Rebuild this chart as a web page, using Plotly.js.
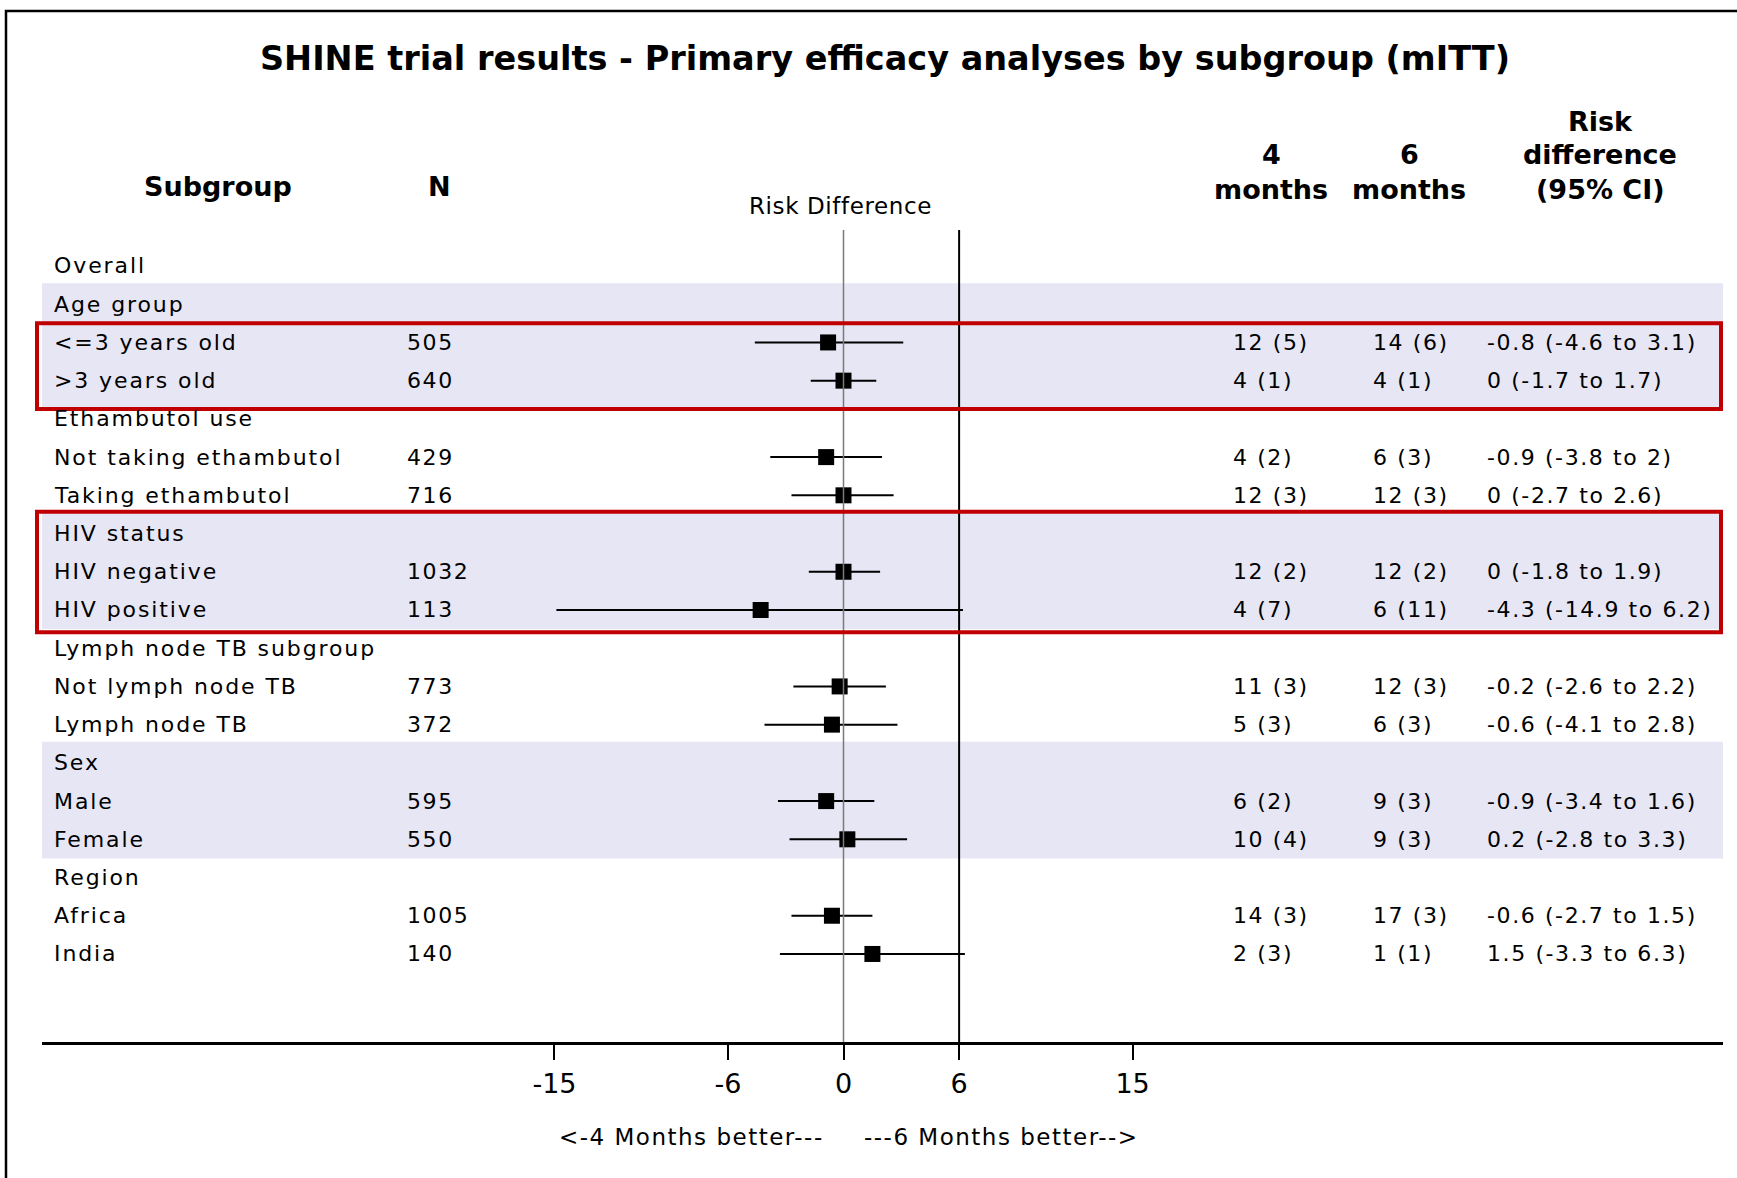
<!DOCTYPE html>
<html>
<head>
<meta charset="utf-8">
<script src="https://cdn.plot.ly/plotly-3.0.1.min.js"></script>
<style>html,body{margin:0;padding:0;background:#fff;}</style>
</head>
<body>
<div id="chart" style="width:1737px;height:1178px;"></div>
<script>
// ---------------- DATA ----------------
const subgroupLabels = [
  "Overall", "Age group", "<=3 years old", ">3 years old",
  "Ethambutol use", "Not taking ethambutol", "Taking ethambutol",
  "HIV status", "HIV negative", "HIV positive",
  "Lymph node TB subgroup", "Not lymph node TB", "Lymph node TB",
  "Sex", "Male", "Female",
  "Region", "Africa", "India"
];
const nValues   = [null, null, 505, 640, null, 429, 716, null, 1032, 113, null, 773, 372, null, 595, 550, null, 1005, 140];
const events4   = [null, null, 12, 4, null, 4, 12, null, 12, 4, null, 11, 5, null, 6, 10, null, 14, 2];
const pct4      = [null, null, 5, 1, null, 2, 3, null, 2, 7, null, 3, 3, null, 2, 4, null, 3, 3];
const events6   = [null, null, 14, 4, null, 6, 12, null, 12, 6, null, 12, 6, null, 9, 9, null, 17, 1];
const pct6      = [null, null, 6, 1, null, 3, 3, null, 2, 11, null, 3, 3, null, 3, 3, null, 3, 1];
const riskDiff  = [null, null, -0.8, 0, null, -0.9, 0, null, 0, -4.3, null, -0.2, -0.6, null, -0.9, 0.2, null, -0.6, 1.5];
const ciLower   = [null, null, -4.6, -1.7, null, -3.8, -2.7, null, -1.8, -14.9, null, -2.6, -4.1, null, -3.4, -2.8, null, -2.7, -3.3];
const ciUpper   = [null, null, 3.1, 1.7, null, 2, 2.6, null, 1.9, 6.2, null, 2.2, 2.8, null, 1.6, 3.3, null, 1.5, 6.3];
const tickValues = [-15, -6, 0, 6, 15];
const refLines = [0, 6];
const shadedGroups = [[1, 3], [7, 9], [13, 15]];   // first and last row of shaded blocks
const highlightedGroups = [[2, 3], [7, 9]];        // rows framed in red

const titleText = "SHINE trial results - Primary efficacy analyses by subgroup (mITT)";
const colHeaders = {subgroup: "Subgroup", n: "N", m4: ["4", "months"], m6: ["6", "months"], rd: ["Risk", "difference", "(95% CI)"]};
const axisLabel = "Risk Difference";
const leftNote = "<-4 Months better---";
const rightNote = "---6 Months better-->";

// ---------------- LAYOUT HELPERS ----------------
const W = 1737, H = 1178;
const px = x => x / W;
const py = y => 1 - y / H;
const esc = s => String(s).replace(/&/g, "&amp;").replace(/</g, "&lt;").replace(/>/g, "&gt;");
const sp = (s, ls) => `<span style="letter-spacing:${ls}px">${esc(s)}</span>`;

const rows = subgroupLabels.map((_, i) => i);
const FONT = "DejaVu Sans";
const txtFont = {family: FONT, size: 22, color: "#000"};
const LS = 1.6;

const annotations = [];
function colText(xPix, i, text, ls) {
  annotations.push({xref: "paper", yref: "y", x: px(xPix), y: i, text: sp(text, ls === undefined ? LS : ls),
    showarrow: false, xanchor: "left", yanchor: "middle", font: txtFont});
}
rows.forEach(i => {
  colText(52, i, subgroupLabels[i], 1.9);
  if (nValues[i] !== null) colText(405, i, nValues[i]);
  if (events4[i] !== null) colText(1231, i, `${events4[i]} (${pct4[i]})`);
  if (events6[i] !== null) colText(1371, i, `${events6[i]} (${pct6[i]})`);
  if (riskDiff[i] !== null) colText(1485, i, `${riskDiff[i]} (${ciLower[i]} to ${ciUpper[i]})`);
});

const hdrFont = {family: FONT, size: 27, color: "#000", weight: "bold"};
function header(xPix, yPix, text) {
  annotations.push({xref: "paper", yref: "paper", x: px(xPix), y: py(yPix), text: esc(text),
    showarrow: false, xanchor: "center", yanchor: "middle", font: hdrFont});
}
header(218, 186, colHeaders.subgroup);
header(439, 186, colHeaders.n);
colHeaders.m4.forEach((t, k) => header(1271, 155 + 34 * k, t));
colHeaders.m6.forEach((t, k) => header(1409, 155 + 34 * k, t));
colHeaders.rd.forEach((t, k) => header(1600, 121 + 34 * k, t));

annotations.push({xref: "paper", yref: "paper", x: px(840), y: py(206), text: sp(axisLabel, 0.6),
  showarrow: false, xanchor: "center", yanchor: "middle", font: {family: FONT, size: 23, color: "#000"}});
annotations.push({xref: "x", yref: "paper", x: 0, xshift: -18, y: py(1137), text: sp(leftNote, 1.5),
  showarrow: false, xanchor: "right", yanchor: "middle", font: {family: FONT, size: 23, color: "#000"}});
annotations.push({xref: "x", yref: "paper", x: 0, xshift: 18, y: py(1137), text: sp(rightNote, 1.5),
  showarrow: false, xanchor: "left", yanchor: "middle", font: {family: FONT, size: 23, color: "#000"}});

// ---------------- SHAPES ----------------
const shapes = [];
// shaded blocks: top / bottom offsets (in rows)
const bandOffsets = [[-0.55, 0.72], [-0.55, 0.5], [-0.55, 0.5]];
shadedGroups.forEach(([a, b], k) => shapes.push({type: "rect", xref: "x domain", yref: "y",
  x0: 0, x1: 1, y0: a + bandOffsets[k][0], y1: b + bandOffsets[k][1], fillcolor: "#E6E6F5", line: {width: 0}, layer: "below"}));
refLines.forEach(v => shapes.push({type: "line", xref: "x", yref: "y domain", x0: v, x1: v, y0: 0, y1: 1,
  line: {color: v === 0 ? "#7a7a7a" : "#000", width: v === 0 ? 1.5 : 2}, layer: v === 0 ? "above" : "below"}));
// red frames: top / bottom offsets (in rows)
const frameOffsets = [[-0.5, 0.74], [-0.57, 0.58]];
highlightedGroups.forEach(([a, b], k) => shapes.push({type: "rect", xref: "paper", yref: "y",
  x0: px(37), x1: px(1721), y0: a + frameOffsets[k][0], y1: b + frameOffsets[k][1],
  line: {color: "#C00000", width: 4}, layer: "above"}));
// outer frame of the figure
shapes.push({type: "rect", xref: "paper", yref: "paper", x0: px(6), x1: px(1750), y0: py(11), y1: py(1200),
  line: {color: "#000", width: 2.5}, layer: "above"});

// ---------------- TRACE ----------------
const errPlus = riskDiff.map((v, i) => v === null ? null : +(ciUpper[i] - v).toFixed(3));
const errMinus = riskDiff.map((v, i) => v === null ? null : +(v - ciLower[i]).toFixed(3));
const trace = {
  type: "scatter", mode: "markers", x: riskDiff, y: rows,
  marker: {symbol: "square", size: 16, color: "#000", line: {width: 0}},
  error_x: {type: "data", symmetric: false, array: errPlus, arrayminus: errMinus,
    color: "#000", thickness: 2, width: 0},
  hoverinfo: "skip", cliponaxis: false
};

// x: 0 at 843.5px, 19.27 px per unit; axis spans 42..1723 px
const U = 19.27, X0 = 843.5;
const layout = {
  width: W, height: H, margin: {l: 0, r: 0, t: 0, b: 0},
  paper_bgcolor: "#fff", plot_bgcolor: "rgba(0,0,0,0)", showlegend: false,
  title: {text: esc(titleText), x: px(885), xref: "paper", xanchor: "center", y: py(58), yref: "paper", yanchor: "middle",
    font: {family: FONT, size: 33.5, color: "#000", weight: "bold"}},
  xaxis: {domain: [px(42), px(1723)], range: [(42 - X0) / U, (1723 - X0) / U],
    tickvals: tickValues, ticktext: tickValues.map(String), ticks: "outside", ticklen: 15, tickwidth: 2, tickcolor: "#000",
    showline: true, linecolor: "#000", linewidth: 2.5, showgrid: false, zeroline: false,
    tickfont: {family: FONT, size: 27, color: "#000"}, ticklabelstandoff: 1, fixedrange: true},
  yaxis: {domain: [py(1042), py(230)], range: [(1042 - 266) / 38.22, (230 - 266) / 38.22],
    showticklabels: false, showgrid: false, zeroline: false, showline: false, ticks: "", fixedrange: true},
  shapes: shapes, annotations: annotations
};

Plotly.newPlot("chart", [trace], layout, {displayModeBar: false, staticPlot: true});
</script>
</body>
</html>
